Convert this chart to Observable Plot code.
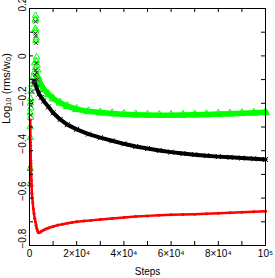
<!DOCTYPE html>
<html><head><meta charset="utf-8">
<script src="https://cdn.jsdelivr.net/npm/d3@7"></script>
<script src="https://cdn.jsdelivr.net/npm/@observablehq/plot@0.6"></script>
<style>body{margin:0;background:#fff}</style>
</head><body><div id="chart"></div>
<script>
// Green (triangles) – dense band
const greenSteps = [3500, 4000, 5000, 6000, 8000, 10000, 13000, 16000, 20000, 25000, 30000, 35000, 40000, 45000, 50000, 55000, 60000, 65000, 70000, 75000, 80000, 85000, 90000, 95000, 100000];
const greenBand  = [-0.09, -0.105, -0.125, -0.14, -0.162, -0.18, -0.198, -0.212, -0.225, -0.234, -0.239, -0.243, -0.246, -0.248, -0.249, -0.25, -0.25, -0.249, -0.248, -0.247, -0.245, -0.244, -0.242, -0.24, -0.238];
// Black (crosses) – dense band
const blackSteps = [2000, 3000, 4000, 5000, 6000, 8000, 10000, 13000, 16000, 20000, 25000, 30000, 35000, 40000, 45000, 50000, 55000, 60000, 65000, 70000, 75000, 80000, 85000, 90000, 95000, 100000];
const blackBand  = [-0.105, -0.135, -0.16, -0.175, -0.19, -0.215, -0.24, -0.268, -0.29, -0.31, -0.33, -0.345, -0.358, -0.371, -0.382, -0.391, -0.399, -0.406, -0.412, -0.417, -0.421, -0.425, -0.428, -0.431, -0.434, -0.437];
// Red (dots)
const redSteps  = [300, 350, 400, 450, 500, 550, 600, 650, 700, 800, 900, 1000, 1200, 1400, 1600, 1900, 2200, 2500, 2800, 3100, 3400, 3700, 4000, 4500, 5000, 6000, 7000, 8000, 10000, 12000, 14000, 16000, 18000, 20000, 23000, 26000, 30000, 35000, 40000, 45000, 50000, 55000, 60000, 65000, 70000, 75000, 80000, 85000, 90000, 95000, 100000];
const redValues = [-0.27, -0.30, -0.365, -0.378, -0.40, -0.44, -0.455, -0.48, -0.50, -0.525, -0.55, -0.58, -0.60, -0.62, -0.645, -0.665, -0.685, -0.70, -0.715, -0.728, -0.738, -0.745, -0.746, -0.744, -0.74, -0.735, -0.73, -0.726, -0.72, -0.714, -0.71, -0.706, -0.703, -0.70, -0.697, -0.694, -0.69, -0.686, -0.682, -0.678, -0.675, -0.672, -0.67, -0.669, -0.668, -0.666, -0.664, -0.662, -0.66, -0.658, -0.655];
// Early scatter
const greenScatterSteps  = [2600, 2600, 2400, 2500, 2600, 2800, 2700, 3000, 2800, 2200, 3200, 2500, 3500, 2000, 3000, 1500, 2500, 1000, 700, 500, 400, 600, 300, 500, 300, 400, 300, 300];
const greenScatterValues = [0.17, 0.155, 0.15, 0.115, 0.105, 0.075, 0.065, -0.005, -0.02, -0.03, -0.04, -0.05, -0.06, -0.07, -0.08, -0.09, -0.1, -0.12, -0.15, -0.18, -0.2, -0.22, -0.24, -0.26, -0.3, -0.345, -0.475, -0.54];
const blackScatterSteps  = [2600, 2500, 2600, 2700, 2900, 2600, 3100, 2300, 3300, 2000, 1500, 1000, 800, 500, 400, 300, 300];
const blackScatterValues = [0.145, 0.095, 0.085, 0.055, -0.03, -0.06, -0.07, -0.08, -0.1, -0.11, -0.12, -0.15, -0.19, -0.21, -0.25, -0.475, -0.54];

const xTicks = [0, 20000, 40000, 60000, 80000, 100000];
const xTickLabels = ["0", "2×10⁴", "4×10⁴", "6×10⁴", "8×10⁴", "10⁵"];
const xMinorTicks = [0, 10000, 20000, 30000, 40000, 50000, 60000, 70000, 80000, 90000, 100000];
const yTicks = [-0.8, -0.6, -0.4, -0.2, 0, 0.2];
const yTickLabels = ["−0.8", "−0.6", "−0.4", "−0.2", "0", "0.2"];
const yMinorTicks = [-0.8, -0.7, -0.6, -0.5, -0.4, -0.3, -0.2, -0.1, 0, 0.1, 0.2];
const xLabel = "Steps";
const yLabel = "Log₁₀ (rms/w₀)";

const green = greenSteps.map((s, i) => ({s, v: greenBand[i]}));
const black = blackSteps.map((s, i) => ({s, v: blackBand[i]}));
const red = redSteps.map((s, i) => ({s, v: redValues[i]}));
const gScatter = greenScatterSteps.map((s, i) => ({s, v: greenScatterValues[i]}));
const bScatter = blackScatterSteps.map((s, i) => ({s, v: blackScatterValues[i]}));

const W = 275, H = 278, ML = 29, MR = 10, MT = 8, MB = 33;
const TK = 4;
const plotW = W - ML - MR, plotH = H - MT - MB;
const GREEN = "#00ff00";

const chart = Plot.plot({
  width: W, height: H,
  marginLeft: ML, marginRight: MR, marginTop: MT, marginBottom: MB,
  style: {fontFamily: "'Liberation Sans', Arial, sans-serif", fontSize: "10px", background: "white", color: "black"},
  x: {domain: [0, 100000]},
  y: {domain: [-0.8, 0.2]},
  marks: [
    Plot.line(green, {x: "s", y: "v", stroke: GREEN, strokeWidth: 5.5}),
    Plot.dot(green, {x: "s", y: "v", symbol: "triangle", stroke: GREEN, r: 3, strokeWidth: 1}),
    Plot.dot(gScatter, {x: "s", y: "v", symbol: "triangle", stroke: GREEN, r: 2.4, strokeWidth: 1}),
    Plot.line(black, {x: "s", y: "v", stroke: "black", strokeWidth: 4}),
    Plot.dot(black, {x: "s", y: "v", symbol: "times", stroke: "black", r: 2.4, strokeWidth: 1}),
    Plot.dot(bScatter, {x: "s", y: "v", symbol: "times", stroke: "#333", r: 2, strokeWidth: 1}),
    Plot.line(red, {x: "s", y: "v", stroke: "red", strokeWidth: 2.5}),
    Plot.dot(red, {x: "s", y: "v", fill: "red", r: 1.5}),
    Plot.frame({stroke: "black"}),
    Plot.tickX(xMinorTicks, {x: d => d, stroke: "black", insetTop: plotH - TK}),
    Plot.tickX(xMinorTicks, {x: d => d, stroke: "black", insetBottom: plotH - TK}),
    Plot.tickY(yMinorTicks, {y: d => d, stroke: "black", insetRight: plotW - TK}),
    Plot.tickY(yMinorTicks, {y: d => d, stroke: "black", insetLeft: plotW - TK}),
    Plot.axisX(xTicks, {anchor: "bottom", tickSize: 0, tickPadding: 4,
      tickFormat: d => xTickLabels[xTicks.indexOf(d)],
      label: xLabel, labelAnchor: "center", labelArrow: "none", labelOffset: 29}),
    Plot.axisY(yTicks, {anchor: "left", tickSize: 0, tickPadding: 4, tickRotate: -90, textAnchor: "start", dy: 3,
      tickFormat: d => yTickLabels[yTicks.indexOf(d)], label: null}),
    Plot.text([yLabel], {frameAnchor: "left", rotate: -90, dx: -20, dy: -3, fontSize: 11, lineAnchor: "bottom"})
  ]
});
document.getElementById("chart").append(chart);
</script>
</body></html>
